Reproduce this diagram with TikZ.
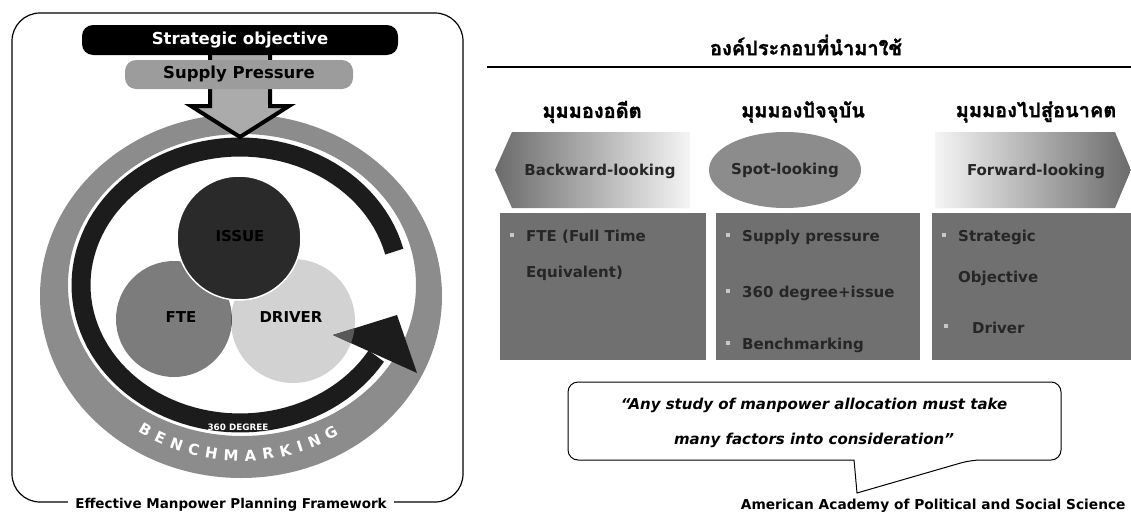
\documentclass[tikz,border=0pt]{standalone}
\usepackage{fontspec}
\setmainfont{DejaVu Sans}
\newfontfamily\thaifont[Script=Thai, BoldFeatures={FakeBold=1.5}]{Loma}
\usetikzlibrary{shapes.geometric,decorations.text}

\definecolor{ringgray}{HTML}{8C8C8C}
\definecolor{ringblack}{HTML}{1C1C1C}
\definecolor{issuefill}{HTML}{2A2A2A}
\definecolor{ftefill}{HTML}{7C7C7C}
\definecolor{driverfill}{HTML}{D2D2D2}
\definecolor{lensfill}{HTML}{585858}
\definecolor{supplyfill}{HTML}{9C9C9C}
\definecolor{boxfill}{HTML}{707070}
\definecolor{spotfill}{HTML}{8C8C8C}

\newcommand{\fsz}[1]{\fontsize{#1}{#1}\selectfont}

\begin{document}
\begin{tikzpicture}[x=1pt, y=-1pt, font=\bfseries,
        colbox/.style = {fill=boxfill, anchor=north west, inner sep=0pt, minimum height=147pt, minimum width=#1},
        bulletsq/.style = {fill=black!22, minimum size=4.5pt, inner sep=0pt},
        boxline/.style = {anchor=west, inner sep=0pt, text=black!85, font=\bfseries\fsz{15}}]
    \useasboundingbox (0,0) rectangle (1131,514);

    % left frame
    \draw[line width=1.2pt, rounded corners=28pt] (12,13) rectangle (463,502);
    \node[fill=white, inner xsep=7pt, inner ysep=1pt, font=\bfseries\fsz{13.5}] (framework) at (231,505) {Effective Manpower Planning Framework};

    % benchmarking ring
    \fill[ringgray, even odd rule] (241,296) ellipse[x radius=201pt, y radius=182pt]
        (242,285) ellipse[x radius=174pt, y radius=151pt];

    % venn circles
    \fill[ftefill] (174,319) circle[radius=58pt];
    \fill[driverfill] (293,321) circle[radius=62pt];
    \begin{scope}
        \clip (174,319) circle[radius=58pt];
        \fill[lensfill] (293,321) circle[radius=62pt];
    \end{scope}

    % 360 degree arrow
    \draw[ringblack, line width=19pt] plot[domain=14:329, samples=100] ({240+159*cos(\x)}, {285-138*sin(\x)});
    \fill[ringblack] (333,335) -- (397,315) -- (417,373) -- cycle;
    \begin{scope}
        \clip (293,321) circle[radius=62pt];
        \fill[lensfill] (333,335) -- (397,315) -- (417,373) -- cycle;
    \end{scope}
    \draw[white, line width=1.5pt, fill=issuefill] (239,238) circle[radius=62pt];

    \begin{scope}[every node/.append style = {font=\bfseries\fsz{15}}]
        \node[text=black] (issue) at (240,236) {ISSUE};
        \node (fte) at (181,317) {FTE};
        \node (driver) at (291,317) {DRIVER};
    \end{scope}
    \node[text=white, font=\bfseries\fsz{8.8}] (degree) at (238,427) {360 DEGREE};
    \path[decorate, decoration={text along path, text align={fit to path},
            text={|\color{white}\bfseries\fsz{15}|BENCHMARKING}}]
        plot[domain=236:302, samples=60] ({241+185*cos(\x)}, {290-171*sin(\x)});

    % input arrow and bars
    \draw[line width=4pt, fill=supplyfill!85, line join=miter]
        (210,50) -- (210,106) -- (191,106) -- (240,137) -- (289,106) -- (270,106) -- (270,50) -- cycle;
    \node[fill=black, text=white, rounded corners=11pt, minimum width=316pt, minimum height=30pt,
        font=\bfseries\fsz{16.5}] (strategic) at (240,40) {Strategic objective};
    \node[fill=supplyfill, rounded corners=11pt, minimum width=228pt, minimum height=29pt,
        font=\bfseries\fsz{16.5}] (supply) at (239,74.5) {Supply Pressure};

    % right panel
    \node[font=\thaifont\bfseries\fsz{20}] (components) at (806,45) {องค์ประกอบที่นำมาใช้};
    \draw[line width=1.5pt] (487,67) -- (1131,67);

    \begin{scope}[every node/.append style = {font=\thaifont\bfseries\fsz{20}}]
        \node (past) at (592,112) {มุมมองอดีต};
        \node (present) at (803,112) {มุมมองปัจจุบัน};
        \node (future) at (1036,112) {มุมมองไปสู่อนาคต};
    \end{scope}

    \shade[left color=black!58, right color=black!4] (495,170) -- (512,132) -- (690,132) -- (690,208) -- (512,208) -- cycle;
    \shade[left color=black!4, right color=black!58] (935,132) -- (1115,132) -- (1131,170) -- (1115,208) -- (935,208) -- cycle;
    \begin{scope}[every node/.append style = {font=\bfseries\fsz{15}, text=black!85}]
        \node (backward) at (600,171) {Backward-looking};
        \node[ellipse, fill=spotfill, minimum width=152pt, minimum height=76pt, inner sep=0pt] (spot) at (785,170) {Spot-looking};
        \node (forward) at (1036,171) {Forward-looking};
    \end{scope}

    \node[colbox=206pt] (pastbox) at (500,213) {};
    \node[colbox=204pt] (presentbox) at (716,213) {};
    \node[colbox=199pt] (futurebox) at (932,213) {};

    \node[bulletsq] (b1) at (512,235) {};
    \node[boxline] (l1) at (526,237) {FTE (Full Time};
    \node[boxline] (l2) at (526,273) {Equivalent)};
    \node[bulletsq] (b2) at (728,235) {};
    \node[boxline] (l3) at (742,237) {Supply pressure};
    \node[bulletsq] (b3) at (728,291) {};
    \node[boxline] (l4) at (742,293) {360 degree+issue};
    \node[bulletsq] (b4) at (728,343) {};
    \node[boxline] (l5) at (742,345) {Benchmarking};
    \node[bulletsq] (b5) at (944,235) {};
    \node[boxline] (l6) at (958,237) {Strategic};
    \node[boxline] (l7) at (958,278) {Objective};
    \node[bulletsq] (b6) at (946,326) {};
    \node[boxline] (l8) at (972,328) {Driver};

    % quotation
    \draw[line width=1pt, fill=white, rounded corners=10pt] (854,460) -- (568,460) -- (568,382) -- (1061,382)
        -- (1061,460) -- (971,460) [sharp corners] -- (857,493) -- cycle;
    \begin{scope}[every node/.append style = {font=\bfseries\itshape\fsz{15}}]
        \node (quotea) at (814,405) {“Any study of manpower allocation must take};
        \node (quoteb) at (814,440) {many factors into consideration”};
    \end{scope}
    \node[anchor=east, font=\bfseries\fsz{13.75}] (source) at (1129,506) {American Academy of Political and Social Science};
\end{tikzpicture}
\end{document}
